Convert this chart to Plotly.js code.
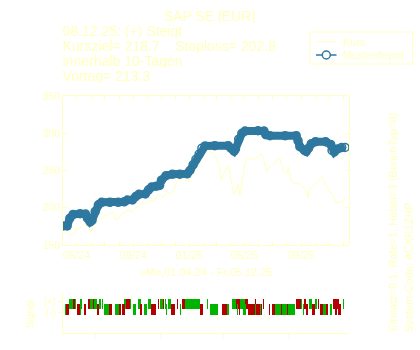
<!DOCTYPE html>
<html>
<head>
<meta charset="utf-8">
<script src="https://cdn.plot.ly/plotly-3.0.1.min.js"></script>
<style>html,body{margin:0;padding:0;background:#fff;}#chart{width:420px;height:350px;}</style>
</head>
<body>
<div id="chart"></div>
<script>
// ---- Kurs (closing price, EUR) ----
const kursDates = ['2024-04-01','2024-04-10','2024-04-16','2024-04-22','2024-04-29','2024-05-08','2024-05-20','2024-05-24','2024-05-31','2024-06-07','2024-06-14','2024-06-20','2024-06-28','2024-07-05','2024-07-12','2024-07-19','2024-07-25','2024-08-01','2024-08-07','2024-08-14','2024-08-20','2024-08-27','2024-09-05','2024-09-11','2024-09-20','2024-09-27','2024-10-07','2024-10-16','2024-10-25','2024-10-31','2024-11-04','2024-11-11','2024-11-15','2024-11-22','2024-11-29','2024-12-06','2024-12-13','2024-12-19','2024-12-30','2025-01-06','2025-01-13','2025-01-17','2025-01-23','2025-01-30','2025-02-07','2025-02-14','2025-02-21','2025-02-28','2025-03-07','2025-03-11','2025-03-19','2025-03-26','2025-04-02','2025-04-08','2025-04-14','2025-04-16','2025-04-21','2025-04-24','2025-05-02','2025-05-08','2025-05-15','2025-05-23','2025-05-30','2025-06-06','2025-06-10','2025-06-18','2025-06-25','2025-07-02','2025-07-10','2025-07-17','2025-07-24','2025-07-31','2025-08-04','2025-08-11','2025-08-18','2025-08-29','2025-09-05','2025-09-12','2025-09-16','2025-09-19','2025-09-26','2025-10-03','2025-10-10','2025-10-17','2025-10-24','2025-10-31','2025-11-10','2025-11-17','2025-11-24','2025-12-01','2025-12-05'];
const kursValues = [171.5,167.4,163.4,164.8,171.5,172.8,180.9,175.5,166.1,175.5,180.9,186.2,187.6,190.3,191.6,194.7,183.6,186.2,191.6,194.7,197.0,194.3,199.7,202.3,205.0,206.4,209.7,209.1,218.5,214.4,213.1,218.5,221.5,218.5,226.1,237.2,238.6,238.6,235.0,244.0,250.7,253.4,261.8,268.5,273.1,275.2,273.1,266.4,255.1,237.2,248.4,257.4,235.0,217.1,226.1,233.2,217.1,230.5,261.8,266.4,264.1,266.4,268.5,273.1,266.4,248.4,255.1,257.4,264.1,266.4,248.4,246.2,255.1,235.0,232.8,231.5,228.3,221.5,212.7,226.1,228.3,232.8,237.2,241.7,230.5,223.8,214.8,206.0,207.3,208.1,213.3];

// ---- Musterdepot (model portfolio) ----
const depotDates = ['2024-04-01','2024-04-10','2024-04-16','2024-04-23','2024-05-08','2024-05-20','2024-05-24','2024-05-30','2024-06-03','2024-06-10','2024-06-17','2024-06-24','2024-07-12','2024-07-30','2024-08-12','2024-08-19','2024-08-30','2024-09-06','2024-09-13','2024-09-27','2024-10-04','2024-10-11','2024-10-21','2024-10-28','2024-11-01','2024-11-11','2024-11-25','2024-12-11','2024-12-27','2025-01-02','2025-01-09','2025-01-15','2025-01-22','2025-01-28','2025-02-04','2025-02-25','2025-03-26','2025-04-01','2025-04-08','2025-04-11','2025-04-18','2025-04-25','2025-05-02','2025-05-30','2025-06-12','2025-06-16','2025-06-25','2025-07-28','2025-08-21','2025-08-25','2025-08-29','2025-09-08','2025-09-12','2025-09-17','2025-09-23','2025-10-02','2025-10-24','2025-11-04','2025-11-07','2025-11-12','2025-11-19','2025-11-28','2025-12-05'];
const depotValues = [175.5,175.5,186.0,191.0,192.0,191.5,186.0,181.0,183.0,195.0,204.0,207.3,207.3,207.3,208.0,210.4,210.4,215.0,218.0,218.5,224.0,228.0,229.0,230.0,237.0,243.0,245.0,245.0,245.5,250.0,258.0,265.0,272.0,280.0,283.0,283.3,283.3,280.0,276.0,279.0,292.0,300.0,303.0,303.4,303.0,298.0,296.7,296.7,296.7,290.0,282.0,277.0,275.5,280.0,286.0,288.7,288.7,285.0,277.0,275.0,279.0,281.0,281.0];

// ---- Signal segments: (+) row and (-) row; G = green, R = red ----
const plusStart = ['2024-04-14','2024-04-23','2024-04-26','2024-05-08','2024-05-25','2024-05-30','2024-06-06','2024-06-08','2024-06-18','2024-06-25','2024-08-12','2024-08-16','2024-08-25','2024-09-10','2024-10-03','2024-10-25','2024-10-29','2024-11-04','2024-11-09','2024-11-15','2024-12-05','2024-12-16','2024-12-23','2025-02-07','2025-04-03','2025-04-13','2025-04-20','2025-05-01','2025-05-24','2025-06-10','2025-08-21','2025-08-31','2025-09-08','2025-09-18','2025-10-01','2025-10-07','2025-11-08','2025-11-30'];
const plusEnd   = ['2024-04-23','2024-04-26','2024-04-29','2024-05-12','2024-05-30','2024-06-06','2024-06-08','2024-06-13','2024-06-22','2024-06-27','2024-08-16','2024-08-25','2024-08-27','2024-09-17','2024-10-09','2024-10-27','2024-11-04','2024-11-07','2024-11-11','2024-11-21','2024-12-07','2024-12-23','2025-01-23','2025-02-10','2025-04-13','2025-04-20','2025-05-01','2025-05-08','2025-05-26','2025-06-12','2025-08-31','2025-09-03','2025-09-11','2025-09-25','2025-10-05','2025-10-09','2025-11-23','2025-12-04'];
const plusSig   = ['G','R','G','G','R','G','R','G','G','G','G','R','G','G','G','R','G','R','G','G','R','R','G','G','G','R','G','R','R','R','R','G','R','G','G','R','R','G'];

const minusStart = ['2024-04-05','2024-04-07','2024-05-01','2024-05-08','2024-05-17','2024-06-13','2024-06-29','2024-07-10','2024-07-23','2024-08-01','2024-08-07','2024-08-31','2024-09-15','2024-09-24','2024-10-09','2024-11-12','2024-11-21','2024-12-11','2025-01-23','2025-02-14','2025-03-13','2025-03-24','2025-04-15','2025-04-19','2025-04-27','2025-05-08','2025-05-23','2025-05-26','2025-05-31','2025-06-03','2025-06-06','2025-06-23','2025-06-29','2025-07-06','2025-07-19','2025-07-22','2025-08-02','2025-08-04','2025-09-05','2025-09-11','2025-09-24','2025-10-12','2025-10-18','2025-10-24','2025-11-02','2025-11-13','2025-11-20'];
const minusEnd   = ['2024-04-07','2024-04-13','2024-05-08','2024-05-10','2024-05-20','2024-06-18','2024-07-10','2024-07-16','2024-08-01','2024-08-05','2024-08-14','2024-09-07','2024-09-20','2024-10-01','2024-10-20','2024-11-14','2024-11-30','2024-12-14','2025-01-30','2025-03-04','2025-03-24','2025-03-27','2025-04-17','2025-04-21','2025-05-04','2025-05-23','2025-05-26','2025-05-29','2025-06-03','2025-06-06','2025-06-08','2025-06-25','2025-07-06','2025-07-19','2025-07-22','2025-08-02','2025-08-04','2025-08-18','2025-09-07','2025-09-15','2025-10-01','2025-10-18','2025-10-24','2025-10-30','2025-11-07','2025-11-17','2025-11-26'];
const minusSig   = ['G','R','R','G','R','R','G','R','G','R','R','G','R','G','R','G','R','G','R','G','R','G','G','R','G','R','G','R','R','G','R','R','R','G','R','G','R','G','G','R','R','R','G','R','G','R','R'];

// ---- Texts ----
const titleText = 'SAP SE [EUR]';
const infoLines = ['08.12.25: (+) Steigt', 'Kursziel= 218.7\u00a0\u00a0\u00a0\u00a0Stoploss= 202.8', 'innerhalb 10-Tagen', 'Vortag= 213.3'];
const xTitle = '»Mo,01.04.24 - Fr,05.12.25';
const sideText1 = 'Einsatz=0.1, Rate=1, Hebel=3 (BenchTyp=0)';
const sideText2 = 'System-Code: ACXK1ZHP';
const legendNames = ['Kurs', 'Musterdepot'];
const yTicks = [150, 200, 250, 300, 350];
const sigTickLabels = ['(+)', '(-)'];
const sigTickVals = ['2024-06-11', '2024-10-30', '2025-03-17', '2025-08-05'];

const YEL = '#ffffc0', BLUE = '#2f78a0', GREEN = '#00b400', RED = '#b40000';
const sigColor = s => s === 'G' ? GREEN : RED;
const ms = (a, b) => new Date(b + 'T00:00:00Z') - new Date(a + 'T00:00:00Z');

const traces = [
  {x: kursDates, y: kursValues, type: 'scatter', mode: 'lines', name: legendNames[0], showlegend: false,
   line: {color: YEL, width: 1}, xaxis: 'x', yaxis: 'y'},
  {x: depotDates, y: depotValues, type: 'scatter', mode: 'lines', showlegend: false,
   line: {color: BLUE, width: 8}, xaxis: 'x', yaxis: 'y', hoverinfo: 'skip'},
  {x: depotDates, y: depotValues, type: 'scatter', mode: 'lines+markers', name: legendNames[1], showlegend: false,
   line: {color: BLUE, width: 1.5},
   marker: {symbol: 'circle-open', size: 8, color: BLUE, line: {width: 1.5, color: BLUE}},
   xaxis: 'x', yaxis: 'y'},
  {type: 'bar', orientation: 'h', showlegend: false, xaxis: 'x2', yaxis: 'y2',
   base: plusStart, x: plusStart.map((s, i) => ms(s, plusEnd[i])), y: plusStart.map(() => 1),
   width: 1, marker: {color: plusSig.map(sigColor), line: {width: 0}}},
  {type: 'bar', orientation: 'h', showlegend: false, xaxis: 'x2', yaxis: 'y2',
   base: minusStart, x: minusStart.map((s, i) => ms(s, minusEnd[i])), y: minusStart.map(() => 0),
   width: 1, marker: {color: minusSig.map(sigColor), line: {width: 0}}}
];

const xRange = ['2024-04-01', '2025-12-13 20:00'];
const tf = {family: 'Liberation Sans, Arial, sans-serif', color: YEL};
const P = px => (px - 63) / 286;        // pixel -> paper x
const Q = py => 1 - py / 350;           // pixel -> paper y

const annotations = [
  {text: titleText, x: P(210), y: Q(15.5), xanchor: 'center', yanchor: 'middle', font: Object.assign({size: 14}, tf), height: 15, borderpad: 0},
  {text: xTitle, x: 0.5, y: Q(272), xanchor: 'center', yanchor: 'middle', font: Object.assign({size: 11}, tf)},
  {text: 'Signal', x: P(30), y: Q(314), textangle: -90, xanchor: 'center', yanchor: 'middle', font: Object.assign({size: 10}, tf)},
  {text: sideText1, x: P(392), y: Q(222.5), textangle: -90, xanchor: 'center', yanchor: 'middle', font: Object.assign({size: 11}, tf)},
  {text: sideText2, x: P(408), y: Q(267.5), textangle: -90, xanchor: 'center', yanchor: 'middle', font: Object.assign({size: 11}, tf)},
  // legend labels
  {text: legendNames[0], x: P(342), y: Q(41.7), xanchor: 'left', yanchor: 'middle', font: Object.assign({size: 11}, tf), borderpad: 0},
  {text: legendNames[1], x: P(342), y: Q(55), xanchor: 'left', yanchor: 'middle', font: Object.assign({size: 11}, tf), borderpad: 0}
];
const lineY = [31, 45.5, 60.5, 75.5];
infoLines.forEach((t, i) => annotations.push({text: t, x: P(62), y: Q(lineY[i]), xanchor: 'left', yanchor: 'middle',
  borderpad: 0, height: 15, font: Object.assign({size: 14}, tf)}));
annotations.forEach(a => { a.xref = 'paper'; a.yref = 'paper'; a.showarrow = false; });

// legend frame and keys
const shapes = [
  {type: 'rect', x0: P(310), x1: P(412.5), y0: Q(32), y1: Q(64), line: {color: YEL, width: 1}, fillcolor: '#ffffff'},
  {type: 'line', x0: P(316), x1: P(336.5), y0: Q(41.7), y1: Q(41.7), line: {color: YEL, width: 1}},
  {type: 'line', x0: P(316), x1: P(336.5), y0: Q(55), y1: Q(55), line: {color: BLUE, width: 1.5}},
  {type: 'circle', x0: P(322.3), x1: P(330.3), y0: Q(59), y1: Q(51), line: {color: BLUE, width: 1.5}, fillcolor: '#ffffff'}
];
shapes.forEach(s => { s.xref = 'paper'; s.yref = 'paper'; });

const layout = {
  width: 420, height: 350,
  margin: {l: 63, r: 71, t: 0, b: 0},
  paper_bgcolor: '#ffffff', plot_bgcolor: '#ffffff',
  font: tf,
  showlegend: false,
  xaxis: {type: 'date', range: xRange, domain: [0, 1], anchor: 'y',
          tick0: '2024-05-01', dtick: 'M4', tickformat: '%m/%y', ticks: 'inside', ticklen: 4, tickcolor: YEL,
          minor: {dtick: 'M1', tick0: '2024-04-01', ticks: 'inside', ticklen: 4, tickcolor: YEL, showgrid: false},
          showline: true, linecolor: YEL, linewidth: 1, mirror: 'ticks', showgrid: false, zeroline: false,
          tickfont: Object.assign({size: 11}, tf)},
  yaxis: {range: [150, 350], domain: [Q(245), Q(96)], anchor: 'x', tickvals: yTicks,
          ticks: 'inside', ticklen: 4, tickcolor: YEL, showline: true, linecolor: YEL, mirror: 'ticks',
          showgrid: false, zeroline: false, tickfont: Object.assign({size: 10}, tf)},
  xaxis2: {type: 'date', range: xRange, domain: [0, 1], anchor: 'y2', tickvals: sigTickVals, showticklabels: false,
           ticks: 'outside', ticklen: 4, tickcolor: YEL, showline: true, linecolor: YEL, showgrid: false, zeroline: false},
  xaxis3: {type: 'date', range: xRange, overlaying: 'x2', anchor: 'y2', side: 'top', tickvals: sigTickVals, showticklabels: false,
           ticks: 'inside', ticklen: 4, tickcolor: YEL, showline: true, linecolor: YEL, showgrid: false, zeroline: false},
  yaxis2: {range: [-1.908, 1.853], domain: [Q(333), Q(292)], anchor: 'x2', tickvals: [1, 0], ticktext: sigTickLabels,
           ticks: 'outside', ticklen: 4, tickcolor: YEL, showline: true, linecolor: YEL, showgrid: false, zeroline: false,
           tickfont: Object.assign({size: 10}, tf)},
  yaxis3: {range: [-1.908, 1.853], overlaying: 'y2', anchor: 'x2', side: 'right', tickvals: [1, 0], showticklabels: false,
           ticks: 'inside', ticklen: 4, tickcolor: YEL, showline: true, linecolor: YEL, showgrid: false, zeroline: false},
  bargap: 0,
  shapes: shapes,
  annotations: annotations
};

Plotly.newPlot('chart', traces, layout, {displayModeBar: false, staticPlot: true});
</script>
</body>
</html>
